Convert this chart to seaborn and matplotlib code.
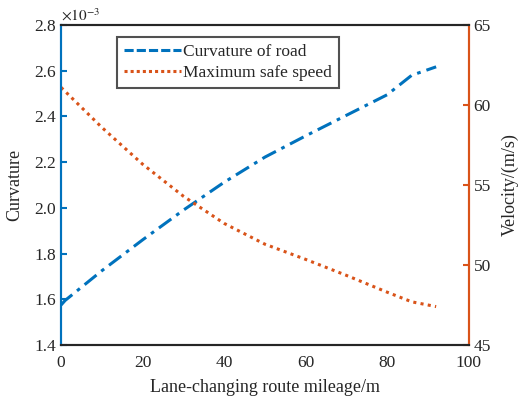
import numpy as np
import pandas as pd
import seaborn as sns
import matplotlib.pyplot as plt
from matplotlib.lines import Line2D

# values
mileage = [0, 1, 10, 20, 30, 40, 50, 60, 70, 80, 86, 92]
curvature = [1.575, 1.595, 1.725, 1.86, 1.99, 2.112, 2.222, 2.315, 2.405, 2.495, 2.58, 2.617]  # x 1e-3
speed_x = [0, 10, 20, 30, 40, 50, 60, 70, 80, 86, 92]
speed = [61.1, 58.6, 56.3, 54.3, 52.6, 51.3, 50.35, 49.35, 48.3, 47.7, 47.4]

blue = '#0072BD'
orange = '#D95319'

sns.set_theme(style='white')
plt.rcParams['font.family'] = ['Liberation Serif', 'DejaVu Serif']
plt.rcParams['mathtext.fontset'] = 'stix'

df_c = pd.DataFrame({'x': mileage, 'y': curvature})
df_s = pd.DataFrame({'x': speed_x, 'y': speed})

fig = plt.figure(figsize=(5.22, 4.0), dpi=100)
ax = fig.add_axes([0.117, 0.1375, 0.781, 0.8])
ax2 = ax.twinx()

sns.lineplot(data=df_c, x='x', y='y', ax=ax, color=blue, lw=2.2, linestyle=(0, (5, 2, 1.2, 2)))
sns.lineplot(data=df_s, x='x', y='y', ax=ax2, color=orange, lw=2.2, linestyle=(0, (1, 1.4)))

ax.set_xlim(0, 100)
ax.set_ylim(1.4, 2.8)
ax.set_xticks([0, 20, 40, 60, 80, 100])
ax.set_yticks(np.arange(1.4, 2.81, 0.2))
ax.set_yticklabels([f'{v:.1f}' for v in np.arange(1.4, 2.81, 0.2)])
ax2.set_ylim(45, 65)
ax2.set_yticks([45, 50, 55, 60, 65])

for a in (ax, ax2):
    for s in a.spines.values():
        s.set_linewidth(1.5)
        s.set_color('#262626')
    a.tick_params(direction='in', length=4, width=1.5, labelsize=12.5, colors='#262626')
ax2.spines['left'].set_color(blue)
ax2.spines['right'].set_color(orange)
ax.spines['left'].set_color(blue)
ax.spines['right'].set_color(orange)
ax.tick_params(axis='y', colors=blue, labelcolor='#262626')
ax2.tick_params(axis='y', colors=orange, labelcolor='#262626')
ax.tick_params(axis='x', pad=7)

ax.set_xlabel('Lane-changing route mileage/m', fontsize=13, labelpad=6)
ax.set_ylabel('Curvature', fontsize=13, labelpad=8)
ax2.set_ylabel('Velocity/(m/s)', fontsize=13)
ax2.yaxis.set_label_coords(1.08, 0.5)
ax.text(0.0, 1.005, r'$\times10^{-3}$', transform=ax.transAxes, fontsize=11, va='bottom', ha='left')

handles = [Line2D([], [], color=blue, lw=2.2, linestyle=(0, (3, 1))),
           Line2D([], [], color=orange, lw=2.2, linestyle=(0, (1, 1)))]
leg = ax.legend(handles, ['Curvature of road', 'Maximum safe speed'], loc='upper left',
                bbox_to_anchor=(0.137, 0.962), fontsize=12.5, frameon=True, fancybox=False,
                handlelength=3.3, handletextpad=0.1, borderpad=0.4, labelspacing=0.25,
                borderaxespad=0)
leg.get_frame().set_edgecolor('#262626')
leg.get_frame().set_linewidth(1.5)

fig.savefig('out.png', dpi=100)
